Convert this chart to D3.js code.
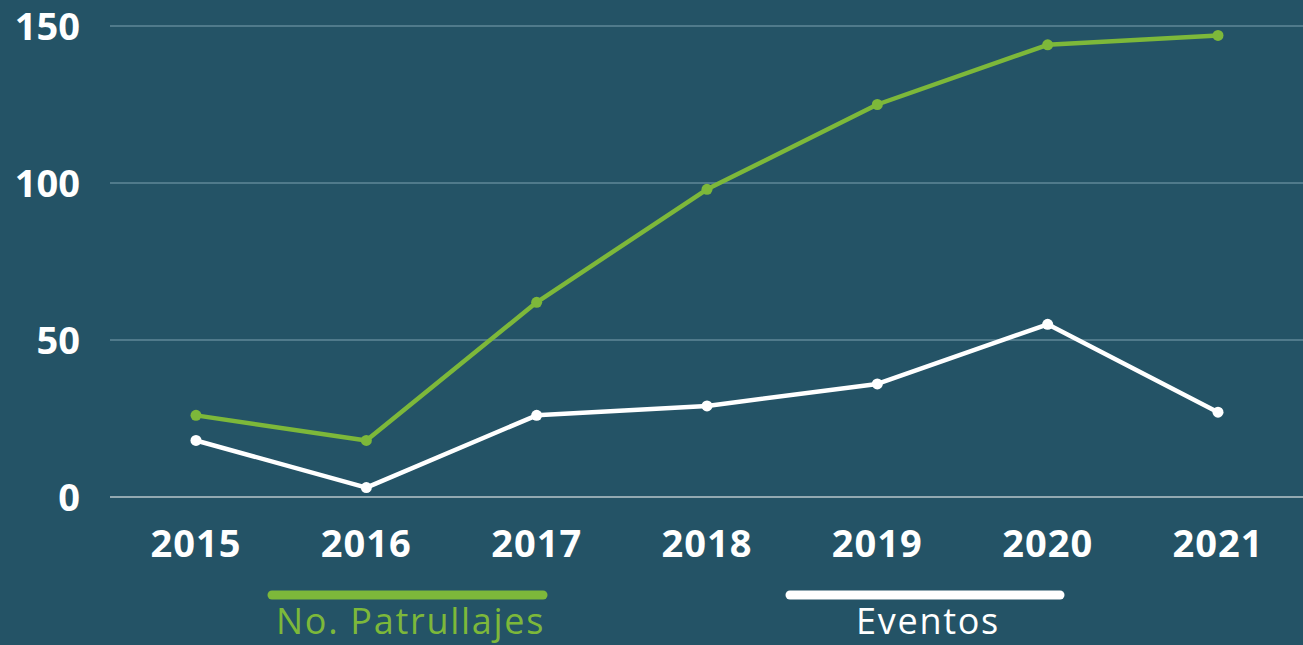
<!DOCTYPE html>
<html>
<head>
<meta charset="utf-8">
<script src="https://cdn.jsdelivr.net/npm/d3@7"></script>
<style>
  html, body { margin: 0; padding: 0; background: #245366; }
  svg { display: block; }
</style>
</head>
<body>
<svg id="chart" width="1303" height="645"></svg>
<script>
  const years = ["2015", "2016", "2017", "2018", "2019", "2020", "2021"];
  const patrullajes = [26, 18, 62, 98, 125, 144, 147];
  const eventos = [18, 3, 26, 29, 36, 55, 27];
  const yTicks = [0, 50, 100, 150];
  const seriesNames = ["No. Patrullajes", "Eventos"];
  const seriesColors = ["#7db83a", "#ffffff"];

  const svg = d3.select("#chart");
  const font = "'Open Sans', sans-serif";

  const x = d3.scalePoint().domain(years).range([196, 1218]);
  const y = d3.scaleLinear().domain([0, 150]).range([497, 26]);

  // Grid lines
  svg.append("g")
    .selectAll("line")
    .data(yTicks)
    .enter().append("line")
    .attr("x1", 110).attr("x2", 1303)
    .attr("y1", d => y(d)).attr("y2", d => y(d))
    .attr("stroke", d => d === 0 ? "#b9c6cb" : "#5f8799")
    .attr("stroke-width", 1.5);

  // Y labels
  svg.append("g")
    .selectAll("text")
    .data(yTicks)
    .enter().append("text")
    .attr("x", 80).attr("y", d => y(d) + 14)
    .attr("text-anchor", "end")
    .attr("fill", "#fff").attr("font-family", font)
    .attr("font-size", 38).attr("font-weight", 700)
    .text(d => d);

  // X labels
  svg.append("g")
    .selectAll("text")
    .data(years)
    .enter().append("text")
    .attr("x", d => x(d)).attr("y", 557)
    .attr("text-anchor", "middle")
    .attr("fill", "#fff").attr("font-family", font)
    .attr("font-size", 38).attr("font-weight", 700)
    .attr("letter-spacing", 1)
    .text(d => d);

  // Lines
  const line = d3.line().x((d, i) => x(years[i])).y(d => y(d));
  [patrullajes, eventos].forEach((vals, k) => {
    svg.append("path")
      .datum(vals)
      .attr("d", line)
      .attr("fill", "none")
      .attr("stroke", seriesColors[k])
      .attr("stroke-width", 4.5)
      .attr("stroke-linejoin", "round");
    svg.append("g")
      .selectAll("circle")
      .data(vals)
      .enter().append("circle")
      .attr("cx", (d, i) => x(years[i]))
      .attr("cy", d => y(d))
      .attr("r", 5.5)
      .attr("fill", seriesColors[k]);
  });

  // Legend
  const legendX = [[272, 543], [790, 1060]];
  seriesNames.forEach((name, k) => {
    const [a, b] = legendX[k];
    svg.append("line")
      .attr("x1", a).attr("x2", b)
      .attr("y1", 595).attr("y2", 595)
      .attr("stroke", seriesColors[k])
      .attr("stroke-width", 9)
      .attr("stroke-linecap", "round");
    svg.append("text")
      .attr("x", (a + b) / 2 + 3).attr("y", 634)
      .attr("text-anchor", "middle")
      .attr("fill", seriesColors[k]).attr("font-family", font)
      .attr("font-size", 36)
      .attr("letter-spacing", 1.7)
      .text(name);
  });
</script>
</body>
</html>
